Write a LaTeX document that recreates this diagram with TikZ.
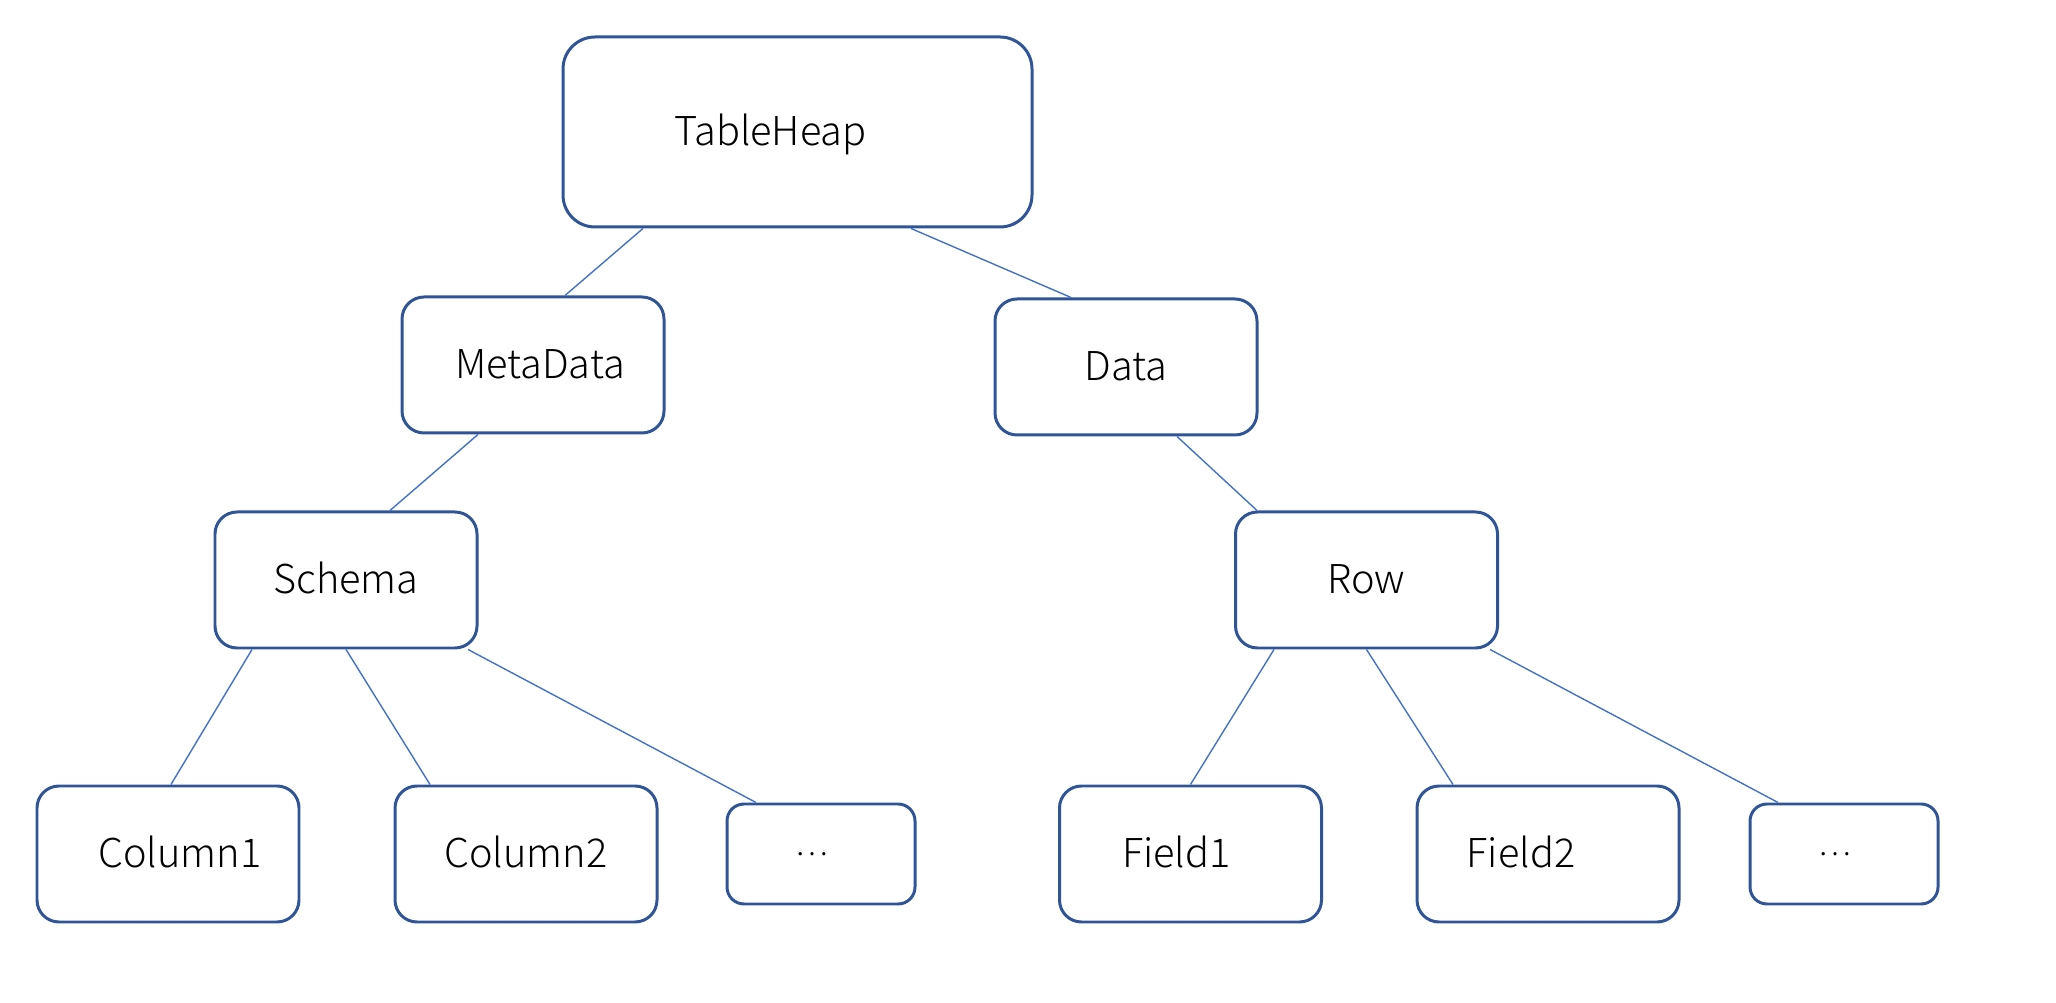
\documentclass[tikz,border=0pt]{standalone}
\usepackage{fontspec}
\setmainfont{Noto Sans CJK SC}[UprightFont={* Light}]
\definecolor{boxblue}{RGB}{47,85,151}
\definecolor{linkblue}{RGB}{68,114,196}

\tikzset{
    box/.style={draw=boxblue, line width=0.85pt, rounded corners=0.22cm, minimum width=2.62cm, minimum height=1.36cm, inner sep=0pt},
    dotbox/.style={box, rounded corners=0.17cm, minimum width=1.88cm, minimum height=1.00cm},
    link/.style={draw=linkblue, line width=0.4pt},
    txt/.style={font=\fontsize{11.3}{14}\selectfont, inner sep=0pt, anchor=base}
}

\begin{document}
\begin{tikzpicture}

    \useasboundingbox (0,0) rectangle (20.56,10.02);

    \node[box, minimum width=4.69cm, minimum height=1.90cm, rounded corners=0.32cm] (heap) at (7.975,8.70) {};
    \node[box] (meta) at (5.33,6.37) {};
    \node[box] (data) at (11.26,6.35) {};
    \node[box] (schema) at (3.46,4.22) {};
    \node[box] (row) at (13.665,4.22) {};
    \node[box] (col1) at (1.68,1.48) {};
    \node[box] (col2) at (5.26,1.48) {};
    \node[dotbox] (cdots) at (8.21,1.48) {};
    \node[box] (field1) at (11.905,1.48) {};
    \node[box] (field2) at (15.48,1.48) {};
    \node[dotbox] (fdots) at (18.44,1.48) {};

    \node[txt] (heaptxt) at ([xshift=-0.27cm,yshift=-0.14cm]heap) {TableHeap};
    \node[txt] (metatxt) at ([xshift=0.07cm,yshift=-0.14cm]meta) {MetaData};
    \node[txt] (datatxt) at ([yshift=-0.14cm]data) {Data};
    \node[txt] (schematxt) at ([yshift=-0.14cm]schema) {Schema};
    \node[txt] (rowtxt) at ([yshift=-0.14cm]row) {Row};
    \node[txt] (col1txt) at ([xshift=0.12cm,yshift=-0.14cm]col1) {Column1};
    \node[txt] (col2txt) at ([yshift=-0.14cm]col2) {Column2};
    \node[txt, anchor=center, font=\fontsize{9}{11}\selectfont] (cdotstxt) at ([xshift=-0.09cm]cdots) {…};
    \node[txt] (field1txt) at ([xshift=-0.14cm,yshift=-0.14cm]field1) {Field1};
    \node[txt] (field2txt) at ([xshift=-0.27cm,yshift=-0.14cm]field2) {Field2};
    \node[txt, anchor=center, font=\fontsize{9}{11}\selectfont] (fdotstxt) at ([xshift=-0.09cm]fdots) {…};

    \foreach \a/\b/\sa/\sb in {heap/meta/-1.545/0.32, heap/data/1.135/-0.55, meta/schema/-0.55/0.44,
        data/row/0.51/-1.095, schema/col1/-0.94/0.03, schema/col2/0/-0.96, schema/cdots/1.22/-0.65,
        row/field1/-0.925/0, row/field2/0/-0.95, row/fdots/1.235/-0.66}
        \draw[link] ([xshift=\sa cm]\a.south) -- ([xshift=\sb cm]\b.north);

\end{tikzpicture}
\end{document}
